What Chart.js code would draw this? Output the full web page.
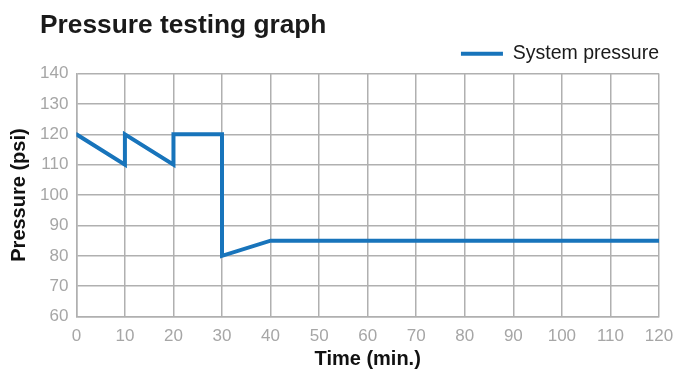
<!DOCTYPE html>
<html>
<head>
<meta charset="utf-8">
<script src="https://cdn.jsdelivr.net/npm/chart.js@4"></script>
<style>
  body { margin: 0; background: #fff; }
  #wrap { position: relative; width: 673px; height: 369px; }
  #title { position: absolute; left: 40px; top: 9px; font: bold 26.3px "Liberation Sans", Arial, sans-serif; color: #1a1a1a; }
  canvas { position: absolute; left: 0; top: 0; }
</style>
</head>
<body>
<div id="wrap">
  <canvas id="pressureChart" width="673" height="369"></canvas>
  <div id="title">Pressure testing graph</div>
</div>
<script>
// data
const times = [0, 10, 10, 20, 20, 30, 30, 40, 120];
const pressures = [120, 110, 120, 110, 120, 120, 80, 85, 85];
const seriesName = 'System pressure';

const blue = '#1874bb';
const gridGray = '#b0b0b0';
const tickGray = '#a6a6a6';
const font = '"Liberation Sans", Arial, sans-serif';

document.addEventListener('DOMContentLoaded', function(){
  const ctx = document.getElementById('pressureChart');
  new Chart(ctx.getContext('2d'), {
    type: 'line',
    data: {
      datasets: [{
        label: seriesName,
        data: times.map((t, i) => ({ x: t, y: pressures[i] })),
        borderColor: blue,
        backgroundColor: blue,
        borderWidth: 4,
        borderCapStyle: 'round',
        pointRadius: 0,
        tension: 0,
        fill: false
      }]
    },
    options: {
      responsive: false,
      animation: false,
      layout: { padding: { left: 3, right: 10, top: 40, bottom: -4 } },
      plugins: {
        legend: {
          position: 'top',
          align: 'end',
          labels: {
            usePointStyle: true,
            pointStyle: 'line',
            pointStyleWidth: 42,
            color: '#1a1a1a',
            font: { family: font, size: 19.5 },
            padding: 4
          }
        },
        tooltip: { enabled: false }
      },
      scales: {
        x: {
          type: 'linear', min: 0, max: 120,
          afterFit: function(scale){ scale.paddingRight = 14; },
          ticks: { stepSize: 10, color: tickGray, font: { family: font, size: 17 }, padding: 10, maxRotation: 0 },
          grid: { color: gridGray, lineWidth: 1.5, drawTicks: false },
          border: { color: gridGray, width: 1.5 },
          title: { display: true, text: 'Time (min.)', color: '#111', font: { family: font, size: 20, weight: 'bold', lineHeight: 1 }, padding: { top: -8 } }
        },
        y: {
          min: 60, max: 140,
          ticks: { stepSize: 10, color: tickGray, font: { family: font, size: 17 }, padding: 8 },
          grid: { color: gridGray, lineWidth: 1.5, drawTicks: false },
          border: { color: gridGray, width: 1.5 },
          title: { display: true, text: 'Pressure (psi)', color: '#111', font: { family: font, size: 20, weight: 'bold' }, padding: { bottom: 1 } }
        }
      }
    }
  });
});
</script>
</body>
</html>
